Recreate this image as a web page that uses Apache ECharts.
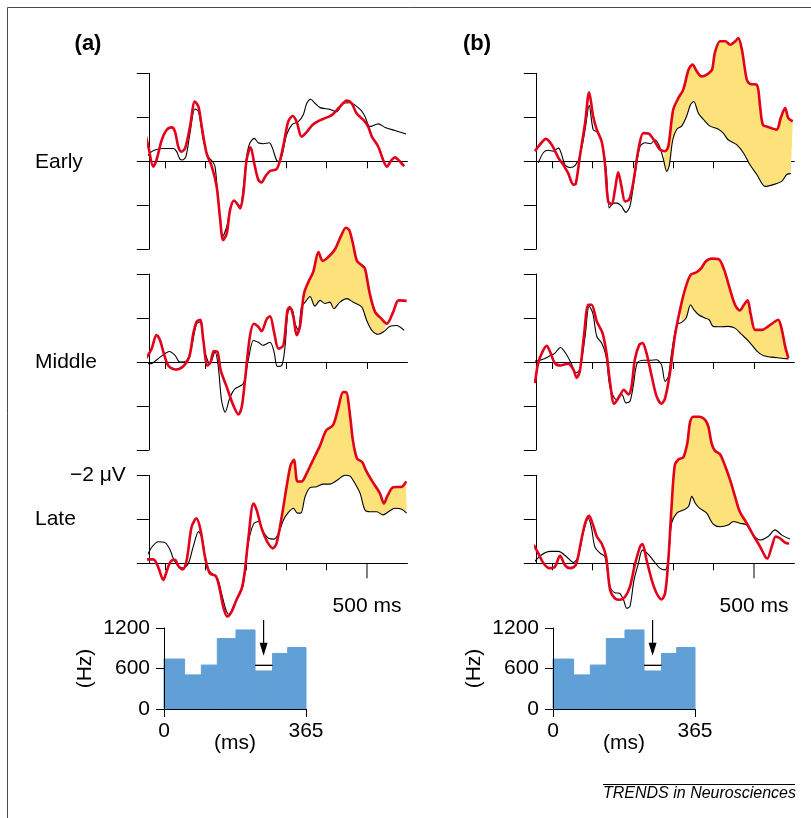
<!DOCTYPE html>
<html><head><meta charset="utf-8">
<script src="https://cdn.jsdelivr.net/npm/echarts@6/dist/echarts.min.js"></script>
<style>html,body{margin:0;padding:0;background:#fff}#c{width:811px;height:818px}</style>
</head><body><div id="c"></div>
<script>
// ---------- ERP data: [time ms, amplitude µV] (negative plotted upward) ----------
const earlyA_red = [[-50,-0.67],[-41,-0.33],[-29,0.12],[-21,-0.03],[-8,-0.48],[4,-0.71],[17,-0.77],[25,-0.67],[33,-0.33],[41,-0.22],[50,-0.30],[62,-0.79],[74,-1.36],[83,-1.24],[91,-0.79],[103,-0.18],[116,0.12],[128,0.58],[136,1.26],[144,1.79],[153,1.64],[161,1.11],[171,0.89],[179,0.97],[186,1.07],[194,0.73],[202,-0.03],[212,-0.32],[221,0.05],[231,0.42],[239,0.48],[248,0.35],[260,0.22],[276,0.18],[285,-0.03],[295,-0.45],[305,-0.90],[316,-1.03],[326,-0.90],[338,-0.56],[351,-0.67],[367,-0.84],[388,-0.95],[413,-1.05],[433,-1.24],[450,-1.38],[462,-1.32],[474,-1.09],[491,-0.94],[503,-0.79],[512,-0.56],[528,-0.33],[540,-0.03],[549,0.12],[561,-0.03],[569,-0.09],[582,0.01],[592,0.11]];
const earlyA_black = [[-45,-0.09],[-33,-0.22],[-21,-0.27],[-4,-0.29],[21,-0.29],[29,-0.22],[37,-0.05],[44,-0.03],[52,-0.11],[62,-0.64],[74,-1.19],[83,-1.13],[95,-0.48],[107,-0.11],[118,0.01],[124,0.12],[132,0.88],[143,1.71],[153,1.48],[161,1.11],[171,0.89],[179,0.97],[186,1.02],[194,0.6],[202,-0.1],[210,-0.41],[221,-0.52],[231,-0.42],[243,-0.40],[258,-0.42],[266,-0.3],[276,-0.03],[283,0.01],[291,-0.18],[301,-0.60],[314,-0.83],[330,-0.90],[342,-1.05],[351,-1.32],[361,-1.41],[371,-1.32],[384,-1.22],[408,-1.18],[425,-1.13],[441,-1.32],[458,-1.33],[483,-1.18],[495,-1.02],[507,-0.79],[528,-0.85],[545,-0.77],[569,-0.70],[597,-0.62]];

const middleA_red = [[-55,-0.02],[-45,-0.11],[-33,-0.30],[-21,-0.61],[-12,-0.49],[-4,-0.23],[8,0.08],[25,0.17],[45,0.10],[60,-0.11],[70,-0.64],[78,-0.91],[87,-0.96],[95,-0.49],[105,0.08],[113,0],[121,-0.25],[130,-0.23],[138,0.19],[153,0.57],[169,0.98],[182,1.19],[190,1.02],[198,0.42],[210,-0.57],[220,-0.87],[231,-0.80],[239,-0.70],[252,-0.98],[260,-1.04],[270,-0.68],[281,-0.30],[293,-0.38],[303,-1.17],[309,-1.25],[318,-1.02],[326,-0.61],[334,-0.80],[344,-1.55],[355,-1.82],[367,-2.05],[380,-2.5],[390,-2.3],[400,-2.35],[420,-2.55],[435,-2.85],[448,-3.05],[456,-3.0],[465,-2.7],[475,-2.3],[487,-2.2],[495,-2.12],[507,-1.55],[520,-1.14],[536,-0.98],[549,-0.87],[565,-1.14],[578,-1.40],[598,-1.39]];
const middleA_black = [[-58,0.0],[-37,0.04],[-12,-0.11],[11,-0.24],[25,-0.15],[37,0],[54,-0.04],[66,-0.34],[78,-0.87],[87,-0.91],[99,-0.23],[111,0.04],[124,-0.23],[132,0.11],[140,0.87],[149,1.14],[161,0.80],[173,0.61],[194,0.49],[206,-0.04],[219,-0.49],[231,-0.45],[243,-0.38],[260,-0.45],[270,-0.23],[278,0.10],[289,0.08],[297,-0.34],[305,-1.17],[314,-1.21],[322,-0.87],[330,-0.72],[338,-1.25],[347,-1.36],[359,-1.49],[371,-1.27],[384,-1.40],[396,-1.33],[408,-1.36],[418,-1.21],[433,-1.36],[450,-1.44],[466,-1.36],[487,-1.25],[499,-0.95],[512,-0.72],[528,-0.63],[540,-0.68],[557,-0.81],[573,-0.83],[592,-0.72]];

const lateA_red = [[-50,-0.09],[-29,-0.09],[-17,0.08],[-4,0.38],[4,0.19],[14,-0.04],[25,-0.08],[33,0.06],[44,0.14],[54,-0.08],[66,-0.83],[78,-1.02],[88,-0.76],[99,-0.15],[111,0.23],[126,0.29],[136,0.61],[144,0.98],[154,1.21],[165,1.10],[177,0.83],[190,0.57],[198,0.15],[206,-0.53],[219,-1.36],[227,-1.21],[239,-0.80],[253,-0.49],[267,-0.34],[276,-0.45],[289,-1.06],[301,-1.74],[311,-2.23],[319,-2.35],[328,-1.86],[338,-1.86],[351,-2.05],[364,-2.3],[384,-2.68],[399,-3.02],[416,-3.14],[428,-3.5],[441,-3.89],[448,-3.89],[458,-3.36],[465,-2.8],[475,-2.39],[488,-2.3],[498,-2.1],[516,-1.82],[532,-1.59],[542,-1.36],[550,-1.52],[565,-1.73],[586,-1.74],[597,-1.86]];
const lateA_black = [[-45,-0.15],[-33,-0.36],[-17,-0.49],[0,-0.47],[12,-0.32],[22,-0.08],[33,0.06],[45,0.11],[58,0],[70,-0.38],[83,-0.72],[93,-0.53],[103,0.08],[116,0.23],[130,0.34],[140,0.68],[151,1.06],[159,1.17],[169,0.98],[182,0.76],[194,0.49],[206,-0.45],[219,-0.89],[231,-0.95],[243,-0.72],[256,-0.57],[270,-0.55],[281,-0.68],[293,-0.98],[305,-1.15],[318,-1.25],[328,-1.14],[336,-1.14],[347,-1.52],[359,-1.72],[375,-1.74],[392,-1.80],[408,-1.80],[425,-1.88],[446,-2.0],[458,-1.98],[470,-1.82],[483,-1.59],[495,-1.21],[507,-1.17],[524,-1.17],[540,-1.10],[553,-1.17],[569,-1.25],[586,-1.23],[598,-1.14]];

const earlyB_red = [[-42,-0.23],[-30,-0.38],[-15,-0.51],[-1,-0.38],[16,-0.08],[28,0.08],[40,0.27],[53,0.53],[59,0.51],[69,-0.11],[82,-0.87],[92,-1.57],[102,-1.02],[111,-0.72],[123,-0.45],[131,0.04],[139,0.91],[148,0.98],[156,0.64],[164,0.25],[172,0.57],[181,0.91],[191,0.87],[201,0.49],[214,-0.27],[226,-0.64],[239,-0.63],[249,-0.53],[259,-0.38],[267,-0.27],[280,-0.23],[288,-0.34],[300,-1.17],[313,-1.44],[325,-1.63],[338,-2.08],[348,-2.20],[358,-2.05],[370,-1.93],[383,-1.97],[396,-2.08],[403,-2.46],[416,-2.73],[429,-2.73],[441,-2.65],[454,-2.73],[461,-2.80],[470,-2.54],[482,-1.86],[490,-1.76],[507,-1.74],[515,-1.25],[522,-0.83],[535,-0.78],[556,-0.72],[566,-0.98],[577,-1.21],[585,-0.98],[596,-0.91]];
const earlyB_black = [[-34,0.04],[-21,-0.20],[-9,-0.25],[3,-0.23],[16,-0.30],[24,-0.15],[32,0.08],[45,0.14],[57,0.10],[69,-0.11],[82,-0.72],[92,-1.27],[102,-0.72],[112,-0.66],[123,-0.45],[134,0.19],[142,1.06],[152,0.95],[162,0.95],[172,1.02],[183,1.16],[193,1.02],[205,0.34],[218,-0.34],[231,-0.42],[244,-0.40],[255,-0.49],[266,-0.34],[276,-0.04],[284,0.23],[290,0.11],[299,-0.49],[309,-0.73],[321,-0.80],[333,-1.02],[343,-1.29],[351,-1.36],[362,-1.10],[375,-0.95],[391,-0.80],[412,-0.73],[424,-0.64],[436,-0.49],[457,-0.38],[474,-0.19],[490,0.08],[507,0.30],[528,0.57],[548,0.53],[569,0.45],[581,0.30],[591,0.28]];

const middleB_red = [[-42,0.48],[-34,0.02],[-23,-0.24],[-13,-0.37],[-5,-0.24],[7,0.02],[20,0.08],[40,0.04],[53,0.17],[61,0.36],[69,0.21],[79,-0.58],[90,-1.30],[98,-1.30],[111,-0.92],[125,-0.66],[135,-0.20],[144,0.48],[154,0.95],[167,0.78],[178,0.63],[189,0.74],[197,0.55],[205,-0.05],[216,-0.39],[224,-0.43],[234,-0.20],[247,0.33],[259,0.78],[271,0.95],[280,0.82],[292,0.25],[304,-0.58],[317,-1.19],[329,-1.64],[343,-1.98],[358,-2.04],[370,-2.14],[381,-2.29],[395,-2.35],[412,-2.34],[426,-2.10],[441,-1.64],[453,-1.30],[465,-1.17],[475,-1.30],[484,-1.40],[492,-1.08],[503,-0.73],[519,-0.73],[535,-0.81],[552,-0.92],[560,-0.96],[568,-0.77],[577,-0.36],[585,-0.09]];
const middleB_black = [[-42,-0.02],[-26,-0.05],[-5,-0.14],[7,-0.20],[21,-0.33],[36,-0.17],[49,0.06],[59,0.25],[69,0.17],[82,-0.58],[92,-1.27],[101,-1.11],[111,-0.58],[123,-0.43],[134,-0.13],[144,0.59],[160,0.86],[173,0.74],[183,0.93],[193,0.89],[201,0.55],[211,0.02],[226,-0.04],[243,-0.04],[259,-0.05],[271,0.06],[280,0.44],[288,0.33],[296,-0.20],[309,-0.85],[321,-0.90],[332,-1.00],[343,-1.30],[351,-1.19],[362,-1.08],[378,-1.00],[389,-0.96],[399,-0.81],[416,-0.80],[436,-0.81],[453,-0.77],[470,-0.62],[487,-0.47],[508,-0.24],[524,-0.14],[544,-0.11],[564,-0.09],[585,-0.07]];

const lateB_red = [[-45,-0.42],[-34,-0.23],[-21,0],[-7,0.11],[7,0.08],[20,-0.17],[32,0.04],[45,0.11],[59,0.04],[71,-0.45],[82,-0.91],[92,-1.08],[101,-0.89],[111,-0.61],[123,-0.45],[134,-0.15],[144,0.61],[156,0.80],[168,0.83],[181,0.76],[193,0.53],[205,0.04],[218,-0.38],[224,-0.44],[234,-0.08],[247,0.38],[259,0.68],[271,0.82],[280,0.68],[288,-0.08],[296,-1.29],[304,-2.23],[313,-2.36],[325,-2.41],[335,-2.73],[342,-3.22],[350,-3.33],[366,-3.33],[379,-3.26],[387,-3.11],[395,-2.73],[403,-2.56],[416,-2.48],[429,-2.20],[441,-1.89],[453,-1.52],[465,-1.17],[482,-0.91],[498,-0.64],[515,-0.38],[528,-0.15],[533,-0.11],[544,-0.38],[554,-0.61],[564,-0.57],[577,-0.47],[587,-0.45]];
const lateB_black = [[-45,-0.02],[-26,-0.19],[-5,-0.27],[16,-0.27],[36,-0.15],[53,-0.02],[65,-0.15],[78,-0.72],[90,-1.02],[98,-0.80],[106,-0.38],[119,-0.23],[131,-0.15],[144,0.53],[156,0.67],[167,0.68],[177,0.83],[185,1.02],[193,0.98],[203,0.38],[214,0],[224,-0.30],[238,-0.21],[251,-0.06],[267,0.11],[280,0.15],[288,-0.08],[296,-0.91],[309,-1.14],[325,-1.21],[338,-1.29],[346,-1.52],[355,-1.36],[366,-1.25],[383,-1.14],[399,-0.89],[416,-0.83],[436,-0.87],[449,-0.95],[465,-0.91],[482,-0.87],[498,-0.64],[515,-0.53],[535,-0.61],[552,-0.76],[569,-0.64],[589,-0.55]];

// time windows (ms) in which the difference is shaded
const middleA_fill = [340, 550];
const lateA_fill = [286, 600];
const earlyB_fill = [268, 600];
const middleB_fill = [312, 600];
const lateB_fill = [288, 485];

const erpTicks = [0, 100, 200, 300, 400, 500];
const erpLongTick = [500];
const rowNames = ['Early', 'Middle', 'Late'];

// ---------- histogram data ----------
const binStart = [0, 53, 96, 137, 185, 234, 279, 318];
const binEnd   = [53, 96, 137, 185, 234, 279, 318, 365];
const binRate  = [740, 505, 651, 1043, 1171, 563, 823, 911];
const refLine  = [234, 279, 647];      // [start ms, end ms, rate Hz]
const arrow    = [256, 1320, 790];     // [ms, from Hz, to Hz]
const histXTicks = [0, 365];

// ---------- layout ----------
const FONT = '"Liberation Sans", Arial, Helvetica, sans-serif';
const RED = '#e2001a', YEL = '#fde17a', BLUE = '#619fd7';
const colLeft = [148.8, 535.8];
const zeroY = [161.3, 362, 563.3];
const uv = 44, plotW = 258.6;
const histLeft = [164, 553];

const panels = [
  {red: earlyA_red, black: earlyA_black, fill: null, col: 0, row: 0},
  {red: middleA_red, black: middleA_black, fill: middleA_fill, col: 0, row: 1},
  {red: lateA_red, black: lateA_black, fill: lateA_fill, col: 0, row: 2},
  {red: earlyB_red, black: earlyB_black, fill: earlyB_fill, col: 1, row: 0},
  {red: middleB_red, black: middleB_black, fill: middleB_fill, col: 1, row: 1},
  {red: lateB_red, black: lateB_black, fill: lateB_fill, col: 1, row: 2}
];

const grid = [], xAxis = [], yAxis = [], series = [];
const axLine = {color: '#000', width: 1};

panels.forEach((p, i) => {
  const late = p.row === 2;
  grid.push({left: colLeft[p.col], top: zeroY[p.row] - 2 * uv, width: plotW,
    height: late ? 2 * uv : 4 * uv, containLabel: false, outerBoundsMode: 'none'});
  xAxis.push({gridIndex: i, type: 'value', min: -40, max: 600,
    axisLine: {show: true, onZero: true, lineStyle: axLine},
    axisTick: {show: true, customValues: late ? erpTicks.filter(t => t !== 500) : erpTicks, length: 7, lineStyle: axLine},
    axisLabel: late ? {show: true, customValues: erpLongTick, formatter: v => v + ' ms', margin: 32,
      fontSize: 21, color: '#000', fontFamily: FONT} : {show: false},
    splitLine: {show: false}});
  yAxis.push({gridIndex: i, type: 'value', inverse: true, min: -2, max: late ? 0 : 2, interval: 1,
    axisLine: {show: true, onZero: false, lineStyle: axLine},
    axisTick: {show: true, length: 12, lineStyle: axLine},
    axisLabel: (late && p.col === 0) ? {show: true, customValues: [-2], formatter: v => '\u2212' + Math.abs(v) + ' \u03bcV',
      margin: 23, fontSize: 21, color: '#000', fontFamily: FONT} : {show: false},
    splitLine: {show: false}});
  if (p.fill) {
    const f = p.fill;
    series.push({type: 'custom', xAxisIndex: i, yAxisIndex: i, clip: false, silent: true, z: 1,
      data: [[f[0], 0]],
      renderItem: (params, api) => {
        const pts = [];
        p.red.forEach(d => { if (d[0] >= f[0] && d[0] <= f[1]) pts.push(api.coord(d)); });
        p.black.slice().reverse().forEach(d => { if (d[0] >= f[0] && d[0] <= f[1]) pts.push(api.coord(d)); });
        return {type: 'polygon', shape: {points: pts}, style: {fill: YEL}};
      }});
  }
  series.push({type: 'line', xAxisIndex: i, yAxisIndex: i, data: p.black, symbol: 'none', smooth: 0.3,
    clip: false, silent: true, z: 2, lineStyle: {color: '#000', width: 1.1}});
  series.push({type: 'line', xAxisIndex: i, yAxisIndex: i, data: p.red, symbol: 'none', smooth: 0.3,
    clip: false, silent: true, z: 3, lineStyle: {color: RED, width: 2.6}});
  if (late) {
    series.push({type: 'custom', xAxisIndex: i, yAxisIndex: i, clip: false, silent: true, z: 1,
      data: erpLongTick.map(t => [t, 0]),
      renderItem: (params, api) => {
        const c = api.coord([api.value(0), api.value(1)]);
        return {type: 'line', shape: {x1: c[0], y1: c[1], x2: c[0], y2: c[1] + 15}, style: {stroke: '#000', lineWidth: 1}};
      }});
  }
});

// histograms
[0, 1].forEach(k => {
  const gi = panels.length + k;
  grid.push({left: histLeft[k], top: 628, width: 142, height: 81, containLabel: false, outerBoundsMode: 'none'});
  xAxis.push({gridIndex: gi, type: 'value', min: 0, max: 365, z: 5,
    axisLine: {show: true, onZero: false, lineStyle: axLine},
    axisTick: {show: true, customValues: histXTicks, length: 8, lineStyle: axLine},
    axisLabel: {show: true, customValues: histXTicks, margin: 12, fontSize: 21, color: '#000', fontFamily: FONT},
    splitLine: {show: false},
    name: '(ms)', nameLocation: 'middle', nameGap: 24, nameMoveOverlap: false,
    nameTextStyle: {fontSize: 21, color: '#000', fontFamily: FONT}});
  yAxis.push({gridIndex: gi, type: 'value', min: 0, max: 1200, interval: 600, z: 5,
    axisLine: {show: true, onZero: false, lineStyle: axLine},
    axisTick: {show: true, length: 8, lineStyle: axLine},
    axisLabel: {show: true, margin: 14, fontSize: 21, color: '#000', fontFamily: FONT, formatter: v => String(v)},
    splitLine: {show: false},
    name: '(Hz)', nameLocation: 'middle', nameRotate: 90, nameGap: 68, nameMoveOverlap: false,
    nameTextStyle: {fontSize: 21, color: '#000', fontFamily: FONT}});
  series.push({type: 'custom', xAxisIndex: gi, yAxisIndex: gi, clip: false, silent: true, z: 1,
    data: binRate.map((r, j) => [binStart[j], binEnd[j], r]),
    renderItem: (params, api) => {
      const a = api.coord([api.value(0), api.value(2)]);
      const b = api.coord([api.value(1), 0]);
      return {type: 'rect', shape: {x: a[0], y: a[1], width: b[0] - a[0], height: b[1] - a[1]},
        style: {fill: BLUE, stroke: BLUE, lineWidth: 1}};
    }});
  series.push({type: 'custom', xAxisIndex: gi, yAxisIndex: gi, clip: false, silent: true, z: 3,
    data: [refLine],
    renderItem: (params, api) => {
      const a = api.coord([api.value(0), api.value(2)]);
      const b = api.coord([api.value(1), api.value(2)]);
      return {type: 'line', shape: {x1: a[0], y1: a[1], x2: b[0], y2: b[1]}, style: {stroke: '#000', lineWidth: 1.3}};
    }});
  series.push({type: 'custom', xAxisIndex: gi, yAxisIndex: gi, clip: false, silent: true, z: 3,
    data: [arrow],
    renderItem: (params, api) => {
      const a = api.coord([api.value(0), api.value(1)]);
      const b = api.coord([api.value(0), api.value(2)]);
      return {type: 'group', children: [
        {type: 'line', shape: {x1: a[0], y1: a[1], x2: b[0], y2: b[1] - 8}, style: {stroke: '#000', lineWidth: 1.2}},
        {type: 'polygon', shape: {points: [[b[0] - 4, b[1] - 13], [b[0] + 4, b[1] - 13], [b[0], b[1]]]}, style: {fill: '#000'}}
      ]};
    }});
});

const txt = (text, x, y, extra) => Object.assign({type: 'text', x: x, y: y, silent: true,
  style: Object.assign({text: text, fill: '#000', fontSize: 21, fontFamily: FONT, align: 'left', verticalAlign: 'middle'}, extra || {})});

const graphic = [
  {type: 'polyline', silent: true, shape: {points: [[7.5, 830], [7.5, 7.5], [830, 7.5]]}, style: {stroke: '#4a4a4a', lineWidth: 1, fill: null}},
  txt('(a)', 88, 44, {fontWeight: 'bold', fontSize: 22, align: 'center'}),
  txt('(b)', 477, 44, {fontWeight: 'bold', fontSize: 22, align: 'center'}),
  txt(rowNames[0], 35, 162),
  txt(rowNames[1], 35, 362),
  txt(rowNames[2], 35, 519),
  {type: 'line', silent: true, shape: {x1: 603, y1: 784.5, x2: 795, y2: 784.5}, style: {stroke: '#000', lineWidth: 1}},
  txt('TRENDS in Neurosciences', 603, 794, {fontStyle: 'italic', fontSize: 16})
];

const chart = echarts.init(document.getElementById('c'), null, {renderer: 'canvas'});
chart.setOption({
  animation: false,
  backgroundColor: '#fff',
  textStyle: {fontFamily: FONT},
  grid: grid, xAxis: xAxis, yAxis: yAxis, series: series, graphic: graphic
});
</script>
</body></html>
